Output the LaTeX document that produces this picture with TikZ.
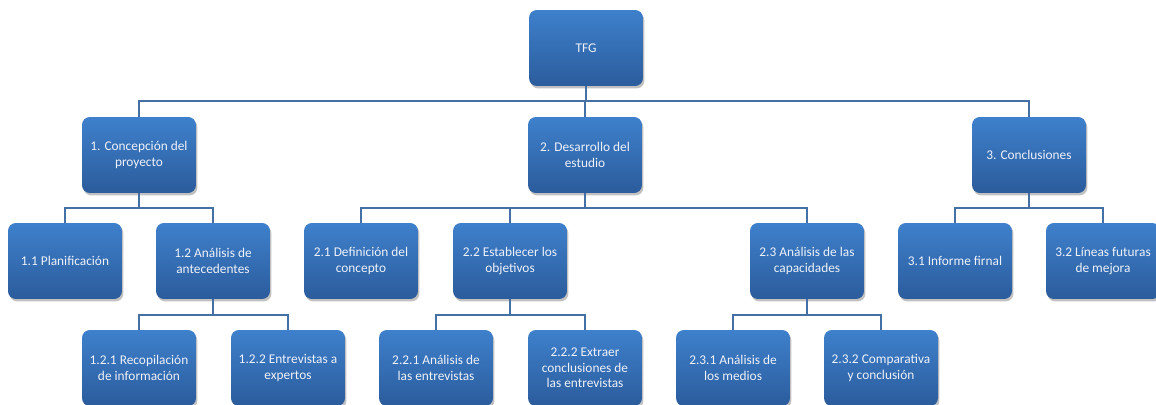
\documentclass[tikz,border=0pt]{standalone}
\usepackage{fontspec}
\setmainfont{Carlito}
\usepackage{xcolor}
\definecolor{boxtop}{RGB}{62,128,204}
\definecolor{boxbottom}{RGB}{43,92,156}
\definecolor{boxtext}{RGB}{238,242,250}
\definecolor{linkblue}{RGB}{68,112,166}
\usetikzlibrary{shadows}

\tikzset{
  wbsbox/.style={rounded corners=4.5pt, minimum width=2.28cm, minimum height=1.52cm,
    top color=boxtop, bottom color=boxbottom, text=boxtext, align=center,
    font=\fontsize{7.6}{8.8}\selectfont, inner sep=1pt,
    drop shadow={shadow xshift=0.8pt, shadow yshift=-1.4pt, opacity=0.35, fill=black!70}},
  wbsline/.style={draw=linkblue, line width=1.1pt}
}

\begin{document}
\begin{tikzpicture}[x=0.02cm, y=-0.02cm]
  \useasboundingbox (0,0) rectangle (1156,405);

  % connectors
  \coordinate (bar0) at (586,101);
  \coordinate (bar1) at (139,208);
  \coordinate (bar2) at (585,208);
  \coordinate (bar3) at (1029,208);
  \coordinate (bar12) at (213,315);
  \coordinate (bar22) at (510,315);
  \coordinate (bar23) at (807,315);

  % nodes
  \node[wbsbox] (tfg) at (586,48) {TFG};

  \node[wbsbox] (c1) at (139,155) {1. Concepción del\\proyecto};
  \node[wbsbox] (c2) at (585,155) {2. Desarrollo del\\estudio};
  \node[wbsbox] (c3) at (1029,155) {3. Conclusiones};

  \node[wbsbox] (c11) at (65,261) {1.1 Planificación};
  \node[wbsbox] (c12) at (213,261) {1.2 Análisis de\\antecedentes};
  \node[wbsbox] (c21) at (361,261) {2.1 Definición del\\concepto};
  \node[wbsbox] (c22) at (510,261) {2.2 Establecer los\\objetivos};
  \node[wbsbox] (c23) at (807,261) {2.3 Análisis de las\\capacidades};
  \node[wbsbox] (c31) at (955,261) {3.1 Informe firnal};
  \node[wbsbox] (c32) at (1103,261) {3.2 Líneas futuras\\de mejora};

  \node[wbsbox] (c121) at (139,368) {1.2.1 Recopilación\\de información};
  \node[wbsbox] (c122) at (288,368) {1.2.2 Entrevistas a\\expertos};
  \node[wbsbox] (c221) at (436,368) {2.2.1 Análisis de\\las entrevistas};
  \node[wbsbox] (c222) at (585,368) {2.2.2 Extraer\\conclusiones de\\las entrevistas};
  \node[wbsbox] (c231) at (733,368) {2.3.1 Análisis de\\los medios};
  \node[wbsbox] (c232) at (881,368) {2.3.2 Comparativa\\y conclusión};

  \draw[wbsline] (tfg.south) -- (bar0);
  \foreach \child in {c1,c2,c3}
    \draw[wbsline] (bar0) -| (\child.north);
  \draw[wbsline] (c1.south) -- (bar1);
  \foreach \child in {c11,c12}
    \draw[wbsline] (bar1) -| (\child.north);
  \draw[wbsline] (c2.south) -- (bar2);
  \foreach \child in {c21,c22,c23}
    \draw[wbsline] (bar2) -| (\child.north);
  \draw[wbsline] (c3.south) -- (bar3);
  \foreach \child in {c31,c32}
    \draw[wbsline] (bar3) -| (\child.north);
  \draw[wbsline] (c12.south) -- (bar12);
  \foreach \child in {c121,c122}
    \draw[wbsline] (bar12) -| (\child.north);
  \draw[wbsline] (c22.south) -- (bar22);
  \foreach \child in {c221,c222}
    \draw[wbsline] (bar22) -| (\child.north);
  \draw[wbsline] (c23.south) -- (bar23);
  \foreach \child in {c231,c232}
    \draw[wbsline] (bar23) -| (\child.north);
\end{tikzpicture}
\end{document}
